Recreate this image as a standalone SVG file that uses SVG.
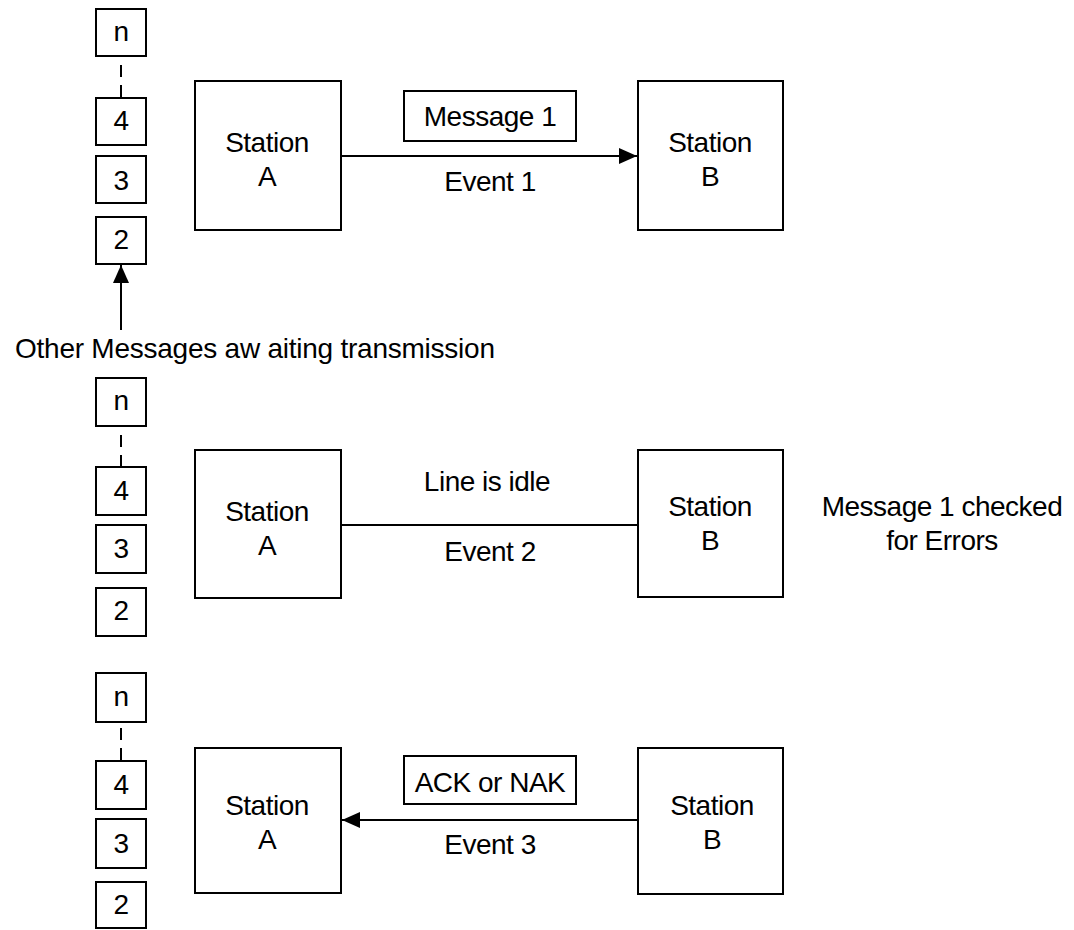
<svg xmlns="http://www.w3.org/2000/svg" width="1074" height="930" viewBox="0 0 1074 930">
<style>
.bx{fill:#fff;stroke:#000;stroke-width:2}
.t{font-family:"Liberation Sans",Arial,sans-serif;font-size:28px;letter-spacing:-0.5px;fill:#000;text-anchor:middle}
.ln{stroke:#000;stroke-width:2;fill:none}
.dash{stroke:#000;stroke-width:2;stroke-dasharray:12 8;fill:none}
</style>
<defs>
<marker id="ah" viewBox="0 0 18 16" refX="18" refY="8" markerWidth="18" markerHeight="16" markerUnits="userSpaceOnUse" orient="auto">
<path d="M0,0 L18,8 L0,16 Z" fill="#000"/>
</marker>
</defs>
<rect width="1074" height="930" fill="#fff"/>

<!-- Section 1 -->
<g id="q1-n"><rect class="bx" x="96" y="9" width="50" height="47"/><text class="t" x="121" y="41">n</text></g>
<g id="q1-4"><rect class="bx" x="96" y="98" width="50" height="47"/><text class="t" x="121" y="130">4</text></g>
<g id="q1-3"><rect class="bx" x="96" y="156" width="50" height="47"/><text class="t" x="121" y="190">3</text></g>
<g id="q1-2"><rect class="bx" x="96" y="217" width="50" height="47"/><text class="t" x="121" y="249">2</text></g>
<g id="s1-A"><rect class="bx" x="195" y="81" width="146" height="149"/><text class="t" x="267" y="152">Station</text><text class="t" x="267" y="186">A</text></g>
<g id="s1-B"><rect class="bx" x="638" y="81" width="145" height="149"/><text class="t" x="710" y="152">Station</text><text class="t" x="710" y="186">B</text></g>
<g id="msg1"><rect class="bx" x="404" y="91" width="172" height="50"/><text class="t" x="490" y="126">Message 1</text></g>
<text class="t" x="490" y="191">Event 1</text>
<text class="t" x="15" y="358" style="text-anchor:start;letter-spacing:0" textLength="480">Other Messages aw aiting transmission</text>

<!-- Section 2 -->
<g id="q2-n"><rect class="bx" x="96" y="378" width="50" height="48"/><text class="t" x="121" y="410">n</text></g>
<g id="q2-4"><rect class="bx" x="96" y="467" width="50" height="48"/><text class="t" x="121" y="500">4</text></g>
<g id="q2-3"><rect class="bx" x="96" y="525" width="50" height="48"/><text class="t" x="121" y="558">3</text></g>
<g id="q2-2"><rect class="bx" x="96" y="588" width="50" height="48"/><text class="t" x="121" y="620">2</text></g>
<g id="s2-A"><rect class="bx" x="195" y="450" width="146" height="148"/><text class="t" x="267" y="521">Station</text><text class="t" x="267" y="555">A</text></g>
<g id="s2-B"><rect class="bx" x="638" y="450" width="145" height="147"/><text class="t" x="710" y="516">Station</text><text class="t" x="710" y="550">B</text></g>
<text class="t" x="487" y="491">Line is idle</text>
<text class="t" x="490" y="561">Event 2</text>
<text class="t" x="942" y="516">Message 1 checked</text>
<text class="t" x="942" y="550">for Errors</text>

<!-- Section 3 -->
<g id="q3-n"><rect class="bx" x="96" y="673" width="50" height="49"/><text class="t" x="121" y="706">n</text></g>
<g id="q3-4"><rect class="bx" x="96" y="761" width="50" height="48"/><text class="t" x="121" y="794">4</text></g>
<g id="q3-3"><rect class="bx" x="96" y="819" width="50" height="49"/><text class="t" x="121" y="853">3</text></g>
<g id="q3-2"><rect class="bx" x="96" y="882" width="50" height="46"/><text class="t" x="121" y="914">2</text></g>
<g id="s3-A"><rect class="bx" x="195" y="748" width="146" height="145"/><text class="t" x="267" y="815">Station</text><text class="t" x="267" y="849">A</text></g>
<g id="s3-B"><rect class="bx" x="638" y="748" width="145" height="146"/><text class="t" x="712" y="815">Station</text><text class="t" x="712" y="849">B</text></g>
<g id="ack"><rect class="bx" x="404" y="756" width="172" height="48"/><text class="t" x="490" y="792">ACK or NAK</text></g>
<text class="t" x="490" y="854">Event 3</text>

<g id="connectors">
<line class="dash" x1="121" y1="65" x2="121" y2="97"/>
<line class="dash" x1="121" y1="435" x2="121" y2="467"/>
<line class="dash" x1="121" y1="728" x2="121" y2="760"/>
<line class="ln" x1="121" y1="330" x2="121" y2="265" marker-end="url(#ah)"/>
<line class="ln" x1="341" y1="156" x2="637" y2="156" marker-end="url(#ah)"/>
<line class="ln" x1="341" y1="525" x2="638" y2="525"/>
<line class="ln" x1="638" y1="820" x2="342" y2="820" marker-end="url(#ah)"/>
</g>
</svg>
